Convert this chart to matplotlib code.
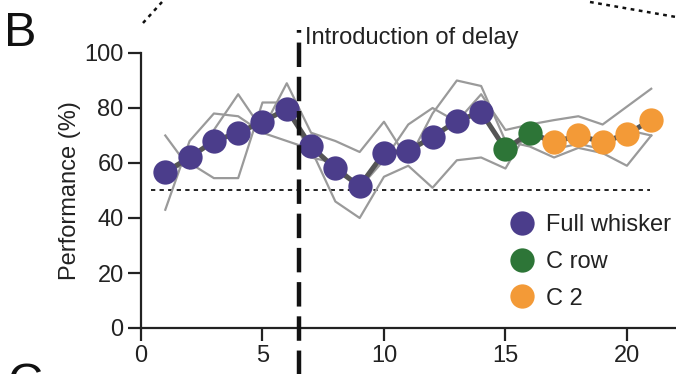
import matplotlib
matplotlib.use("Agg")
import matplotlib.pyplot as plt
from matplotlib.lines import Line2D

plt.rcParams['font.family'] = ['Liberation Sans', 'DejaVu Sans']

# ---- data ----
sessions = list(range(1, 22))
mean_perf = [56.7, 62, 68, 71, 75, 79.6, 66, 58, 51.6, 63.6, 64.4, 69.5,
             75.3, 78.5, 65, 71, 67.6, 70, 67.6, 70.5, 75.6]
animal_1 = [43, 68, 78, 77, 71, 68, 65, 46, 40, 55, 59, 51, 61, 62, 58, 73,
            65, 67, 65, 72, 70]
animal_2 = [70, 58, 72, 85, 72, 89, 71, 68, 64, 75, 61, 78, 90, 88, 68, 66,
            62, 65.5, 63.6, 59, 70]
animal_3 = [57, 60, 54.5, 54.5, 82, 82, 62, 60, 51, 61, 74, 80, 75, 85, 72,
            74, 75.6, 77, 74, 80.5, 87]
condition = ['Full whisker'] * 14 + ['C row'] * 2 + ['C 2'] * 5
cond_names = ['Full whisker', 'C row', 'C 2']
cond_colors = {'Full whisker': '#4B3D8B', 'C row': '#2D7537', 'C 2': '#F39A37'}
chance_level = 50
delay_session = 6.5
xticks = [0, 5, 10, 15, 20]
yticks = [0, 20, 40, 60, 80, 100]

W, H = 676, 374
fig = plt.figure(figsize=(W / 100, H / 100), dpi=100)
ax = fig.add_axes([141 / W, 46 / H, (W - 141) / W, (328 - 53) / H])

FS = 17
MS = 17.5

for a in (animal_1, animal_2, animal_3):
    ax.plot(sessions, a, color='#9a9a9a', lw=1.6, zorder=2)

ax.plot(sessions, mean_perf, color='#555555', lw=3.6, zorder=3)

for c in cond_names:
    xs = [s for s, k in zip(sessions, condition) if k == c]
    ys = [m for m, k in zip(mean_perf, condition) if k == c]
    ax.plot(xs, ys, 'o', ms=MS, color=cond_colors[c], mec='none', zorder=4)

# chance line
ax.plot([0.4, 20.95], [chance_level, chance_level], color='#222222', lw=1.4,
        dashes=(2.2, 2.2), zorder=1)

# delay line
ax.plot([delay_session, delay_session], [-17, 108.5], color='#111111', lw=3.2,
        dashes=(5.5, 2.2), clip_on=False, zorder=5)
ax.text(6.75, 105.5, 'Introduction of delay', fontsize=FS, ha='left',
        va='center', color='#222222')

ax.set_xlim(0, 22.02)
ax.set_ylim(0, 100)
ax.set_xticks(xticks)
ax.set_yticks(yticks)
ax.tick_params(axis='both', labelsize=FS, length=9.5, width=1.6,
               colors='#222222', pad=3)
for s in ('top', 'right'):
    ax.spines[s].set_visible(False)
for s in ('left', 'bottom'):
    ax.spines[s].set_linewidth(1.6)
    ax.spines[s].set_color('#222222')
ax.set_ylabel('Performance (%)', fontsize=FS, color='#222222', labelpad=2)

handles = [Line2D([], [], ls='none', marker='o', ms=MS, color=cond_colors[c],
                  mec='none') for c in cond_names]
ax.legend(handles, cond_names, fontsize=FS, frameon=False, loc='upper left',
          bbox_to_anchor=((498 - 141) / (W - 141), (328 - 205) / 275),
          handletextpad=0.45, labelspacing=0.62, borderaxespad=0,
          handlelength=1.2, labelcolor='#222222')

# panel decorations
fig.text(4 / W, 1 - 46 / H, 'B', fontsize=35, ha='left', va='baseline',
         color='#111111')
fig.text(8 / W, 1 - 362 / H, 'C', fontsize=35, ha='left', va='top',
         color='#111111')
fig.add_artist(Line2D([143 / W, 162 / W], [1 - 23 / H, 1 - 2 / H],
                      color='#111111', lw=1.8, dashes=(1.5, 1.8)))
fig.add_artist(Line2D([590 / W, 676 / W], [1 - 2 / H, 1 - 17 / H],
                      color='#111111', lw=1.8, dashes=(1.5, 1.8)))

fig.savefig('out.png', dpi=100)
